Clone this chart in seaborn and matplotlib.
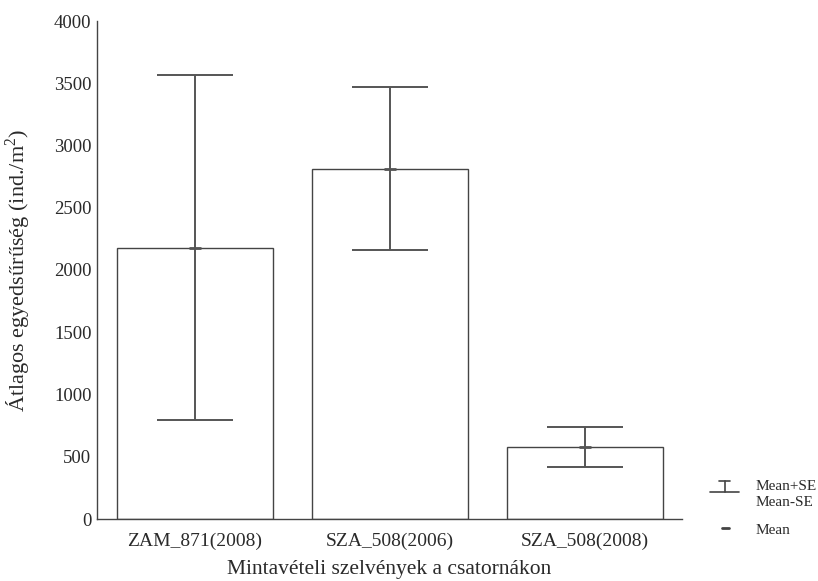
import matplotlib
matplotlib.use("Agg")
import matplotlib.pyplot as plt
import seaborn as sns
import pandas as pd
import numpy as np
from matplotlib.lines import Line2D

categories = ["ZAM_871(2008)", "SZA_508(2006)", "SZA_508(2008)"]
mean_vals = [2180, 2810, 575]
upper_vals = [3565, 3470, 735]
lower_vals = [795, 2158, 415]
yticks = [0, 500, 1000, 1500, 2000, 2500, 3000, 3500, 4000]

sns.set_theme(style="white")
plt.rcParams["font.family"] = ["Liberation Serif", "DejaVu Serif"]
plt.rcParams["mathtext.fontset"] = "custom"
plt.rcParams["mathtext.rm"] = "Liberation Serif"

fig = plt.figure(figsize=(8.18, 5.81), dpi=100)
ax = fig.add_axes([97/818, 1 - 519/581, 585/818, 498/581])

df = pd.DataFrame({"cat": categories, "mean": mean_vals})
sns.barplot(data=df, x="cat", y="mean", order=categories, color="white",
            edgecolor="#444444", linewidth=1.0, width=0.8, errorbar=None, ax=ax)
for p in ax.patches:
    p.set_facecolor("white")

x = np.arange(len(categories))
m = np.array(mean_vals)
yerr = np.vstack([m - np.array(lower_vals), np.array(upper_vals) - m])
ax.errorbar(x, m, yerr=yerr, fmt="none", ecolor="#555555", elinewidth=1.4,
            capsize=27.5, capthick=1.4)
ax.plot(x, m, linestyle="none", marker="_", markersize=8, markeredgewidth=2.0,
        color="#555555")

ax.set_xlim(-0.5, 2.5)
ax.set_ylim(0, 4000)
ax.set_yticks(yticks)
ax.set_yticklabels([str(v) for v in yticks])
for s in ["top", "right"]:
    ax.spines[s].set_visible(False)
for s in ["left", "bottom"]:
    ax.spines[s].set_color("#444444")
    ax.spines[s].set_linewidth(1.0)
ax.tick_params(axis="y", direction="in", length=3, width=0.8, color="#444444",
               labelsize=13.5, labelcolor="#2a2a2a", pad=4)
ax.tick_params(axis="x", length=0, labelsize=14, labelcolor="#2a2a2a", pad=10)
ax.set_xlabel("Mintavételi szelvények a csatornákon", fontsize=15.5,
              color="#2a2a2a", labelpad=7)
ax.set_ylabel("Átlagos egyedsűrűség (ind./m$^2$)", fontsize=16,
              color="#2a2a2a")
ax.yaxis.set_label_coords(-0.11, 0.5)

# custom legend (figure coordinates in pixels)
def fx(px):
    return px / 818
def fy(py):
    return 1 - py / 581

lc = "#444444"
fig.add_artist(Line2D([fx(710), fx(739)], [fy(492), fy(492)], color=lc, lw=1.2))
fig.add_artist(Line2D([fx(719), fx(730)], [fy(481), fy(481)], color=lc, lw=1.2))
fig.add_artist(Line2D([fx(724.5), fx(724.5)], [fy(481), fy(492)], color=lc, lw=1.2))
fig.add_artist(Line2D([fx(722), fx(729)], [fy(528), fy(528)], color=lc, lw=2.0))
fig.text(fx(756), fy(487), "Mean+SE", fontsize=11, va="center", ha="left", color="#2a2a2a")
fig.text(fx(756), fy(503), "Mean-SE", fontsize=11, va="center", ha="left", color="#2a2a2a")
fig.text(fx(756), fy(531), "Mean", fontsize=11, va="center", ha="left", color="#2a2a2a")

fig.savefig("out.png", dpi=100)
